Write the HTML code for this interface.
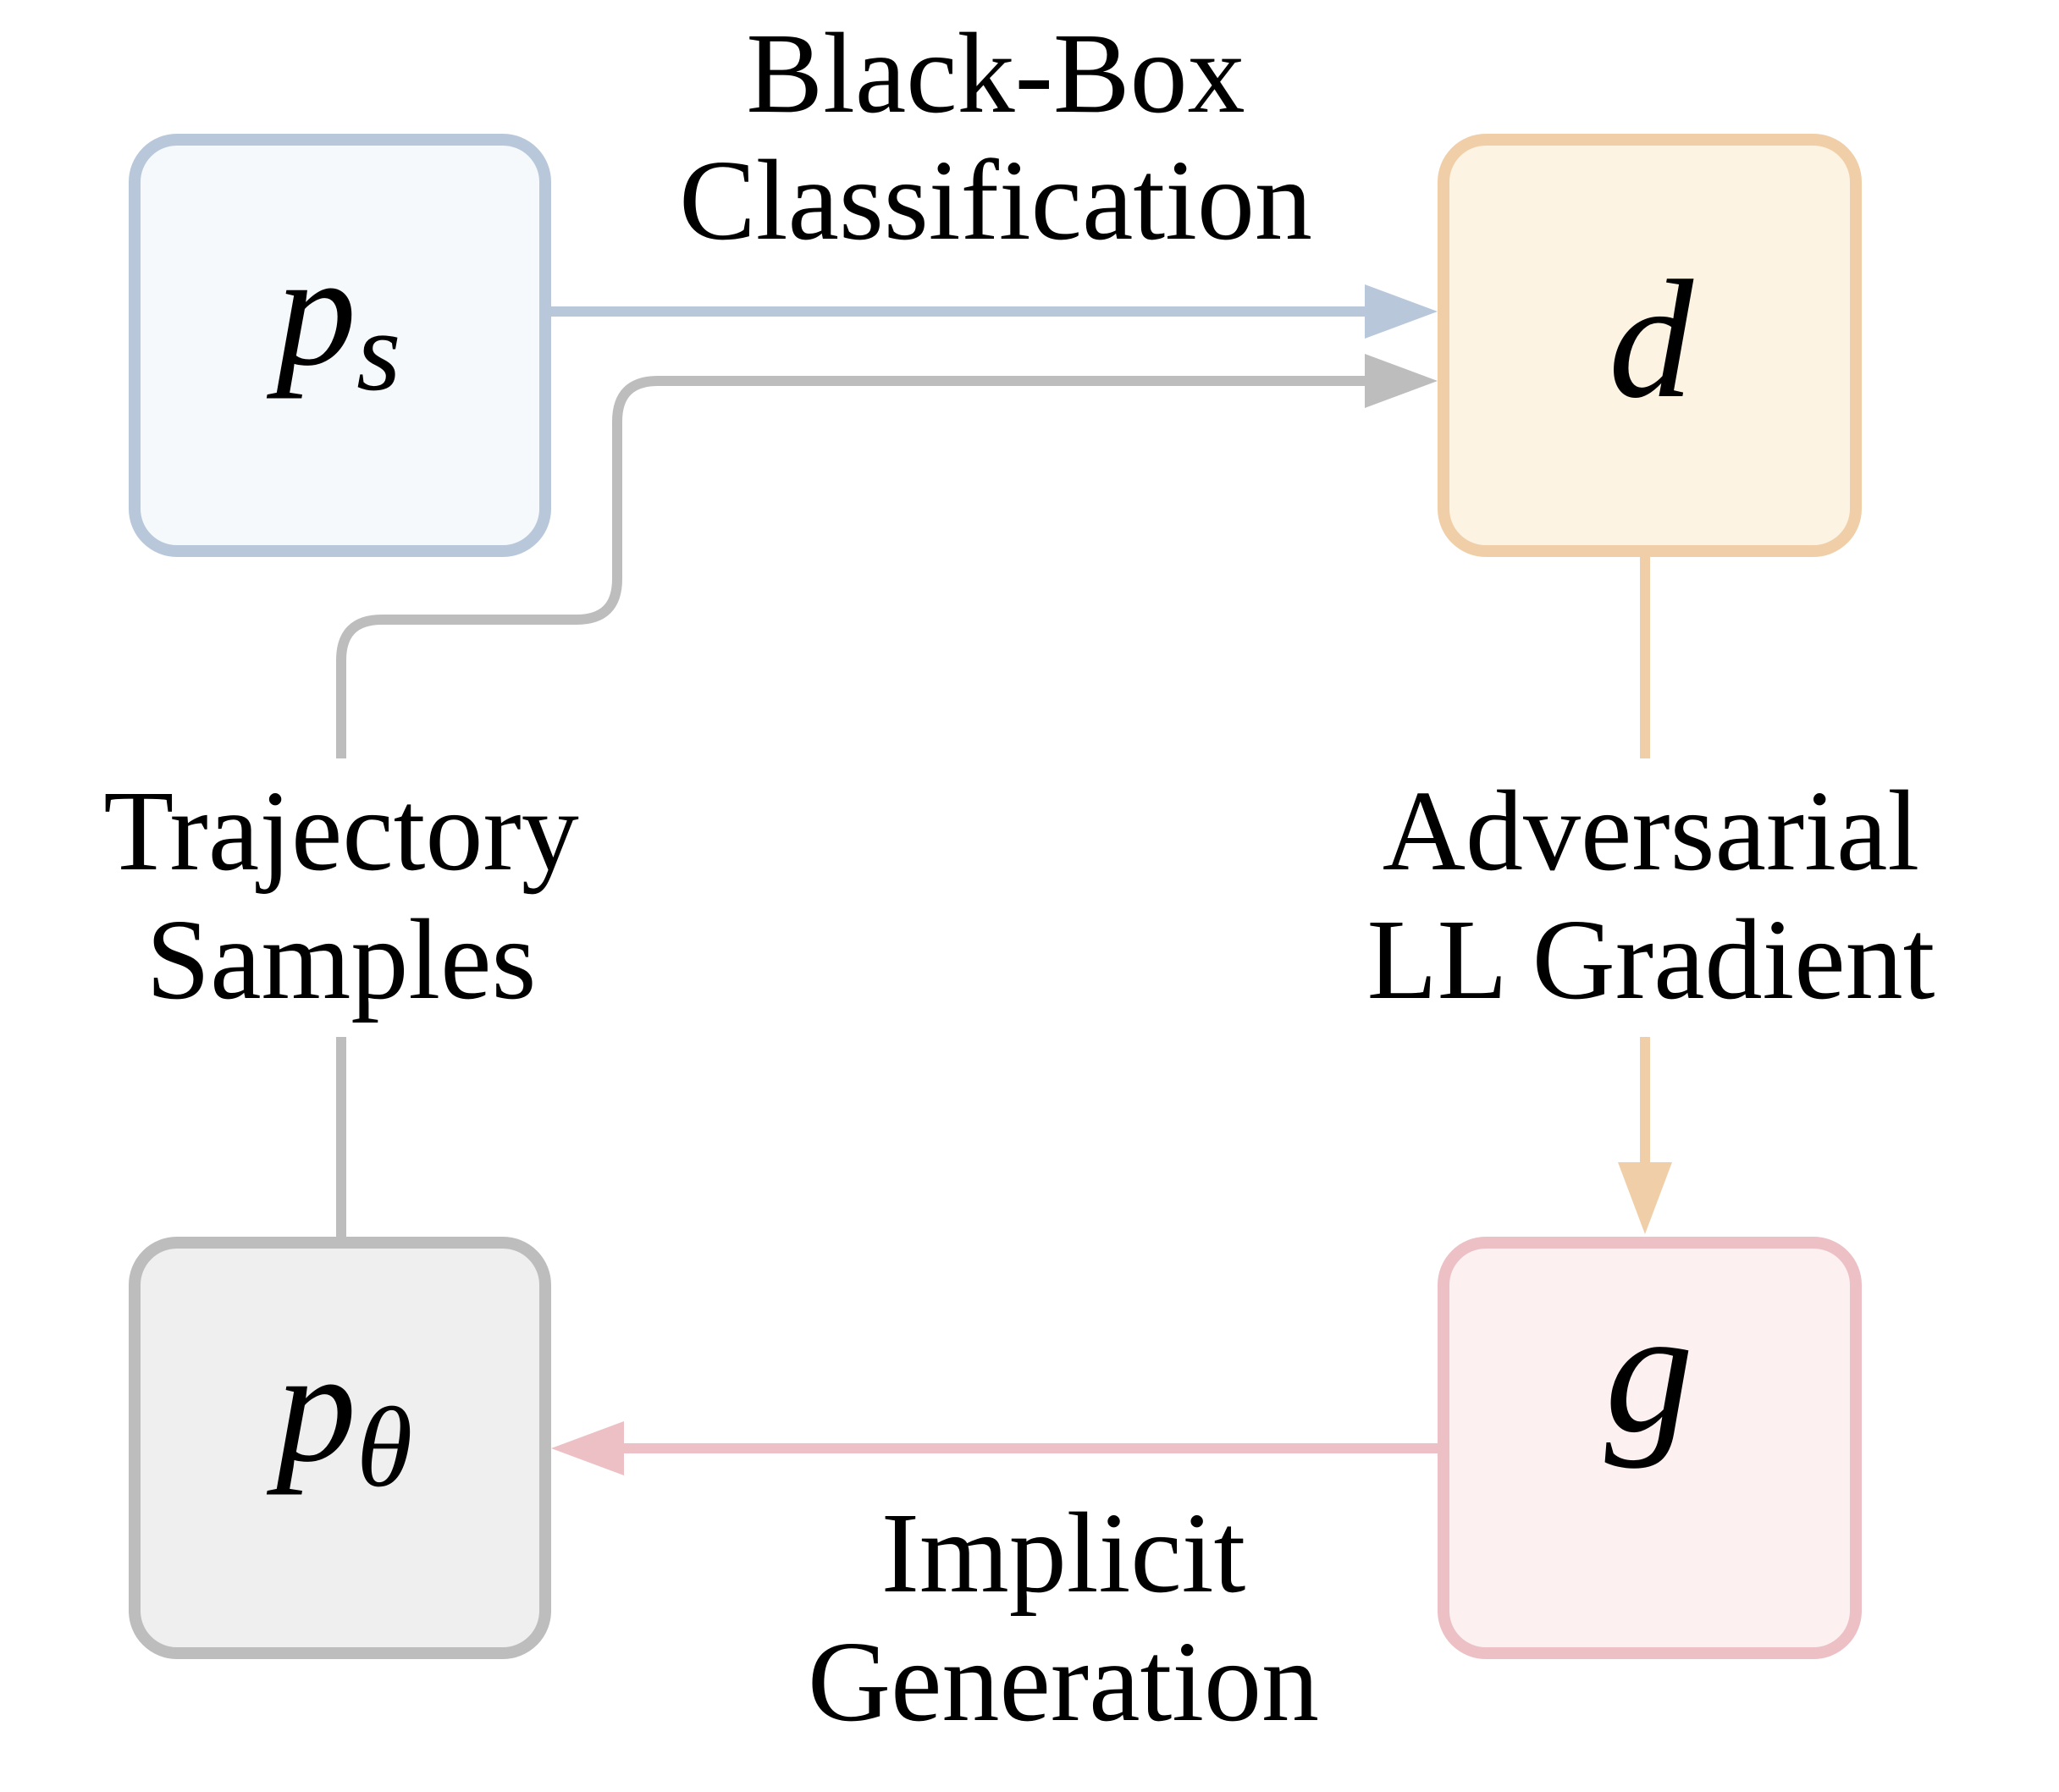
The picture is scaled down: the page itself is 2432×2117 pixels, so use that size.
<!DOCTYPE html>
<html><head><style>html,body{margin:0;padding:0;background:#fff}</style></head>
<body>
<svg width="2432" height="2112" viewBox="0 0 2432 2112" xmlns="http://www.w3.org/2000/svg">
<rect width="2432" height="2112" fill="#fff"/>
<g stroke-width="14">
<rect x="159" y="165" width="485" height="486" rx="50" fill="#f5f9fc" stroke="#b8c8da"/>
<rect x="1705" y="165" width="487" height="486" rx="50" fill="#fdf3e3" stroke="#f0cfa8"/>
<rect x="159" y="1468" width="485" height="485" rx="50" fill="#efefef" stroke="#bdbdbd"/>
<rect x="1705" y="1468" width="487" height="485" rx="50" fill="#fcf0f1" stroke="#ecc0c4"/>
</g>
<g fill="none" stroke-width="12">
<line x1="651" y1="368" x2="1620" y2="368" stroke="#b8c8da"/>
<path d="M403 896 V780 Q403 732 451 732 H681 Q729 732 729 684 V498 Q729 450 777 450 H1620" stroke="#bdbdbd"/>
<line x1="403" y1="1225" x2="403" y2="1461" stroke="#bdbdbd"/>
<line x1="1943" y1="658" x2="1943" y2="896" stroke="#f0cfa8"/>
<line x1="1943" y1="1225" x2="1943" y2="1380" stroke="#f0cfa8"/>
<line x1="1698" y1="1711" x2="730" y2="1711" stroke="#ecc0c4"/>
</g>
<polygon points="1612,336 1698,368 1612,400" fill="#b8c8da"/>
<polygon points="1612,418 1698,450 1612,482" fill="#bdbdbd"/>
<polygon points="1911,1373 1943,1458 1975,1373" fill="#f0cfa8"/>
<polygon points="737,1679 651,1711 737,1743" fill="#ecc0c4"/>
<g font-family="Liberation Serif, serif" font-size="136" fill="#000" text-anchor="middle">
<text x="1176" y="132">Black-Box</text>
<text x="1176" y="282">Classification</text>
<text x="403" y="1027">Trajectory</text>
<text x="403" y="1179">Samples</text>
<text x="1950" y="1027">Adversarial</text>
<text x="1950" y="1179">LL Gradient</text>
<text x="1256" y="1880">Implicit</text>
<text x="1256" y="2032">Generation</text>
</g>
<g font-family="Liberation Serif, serif" font-style="italic" fill="#000">
<text x="326" y="430" font-size="190">p<tspan font-size="135" dy="30">s</tspan></text>
<text x="1950" y="468" font-size="200" text-anchor="middle">d</text>
<text x="1948" y="1690" font-size="210" text-anchor="middle">g</text>
<text x="326" y="1725" font-size="190">p<tspan font-size="135" dy="30">θ</tspan></text>
</g>
</svg>
</body></html>
